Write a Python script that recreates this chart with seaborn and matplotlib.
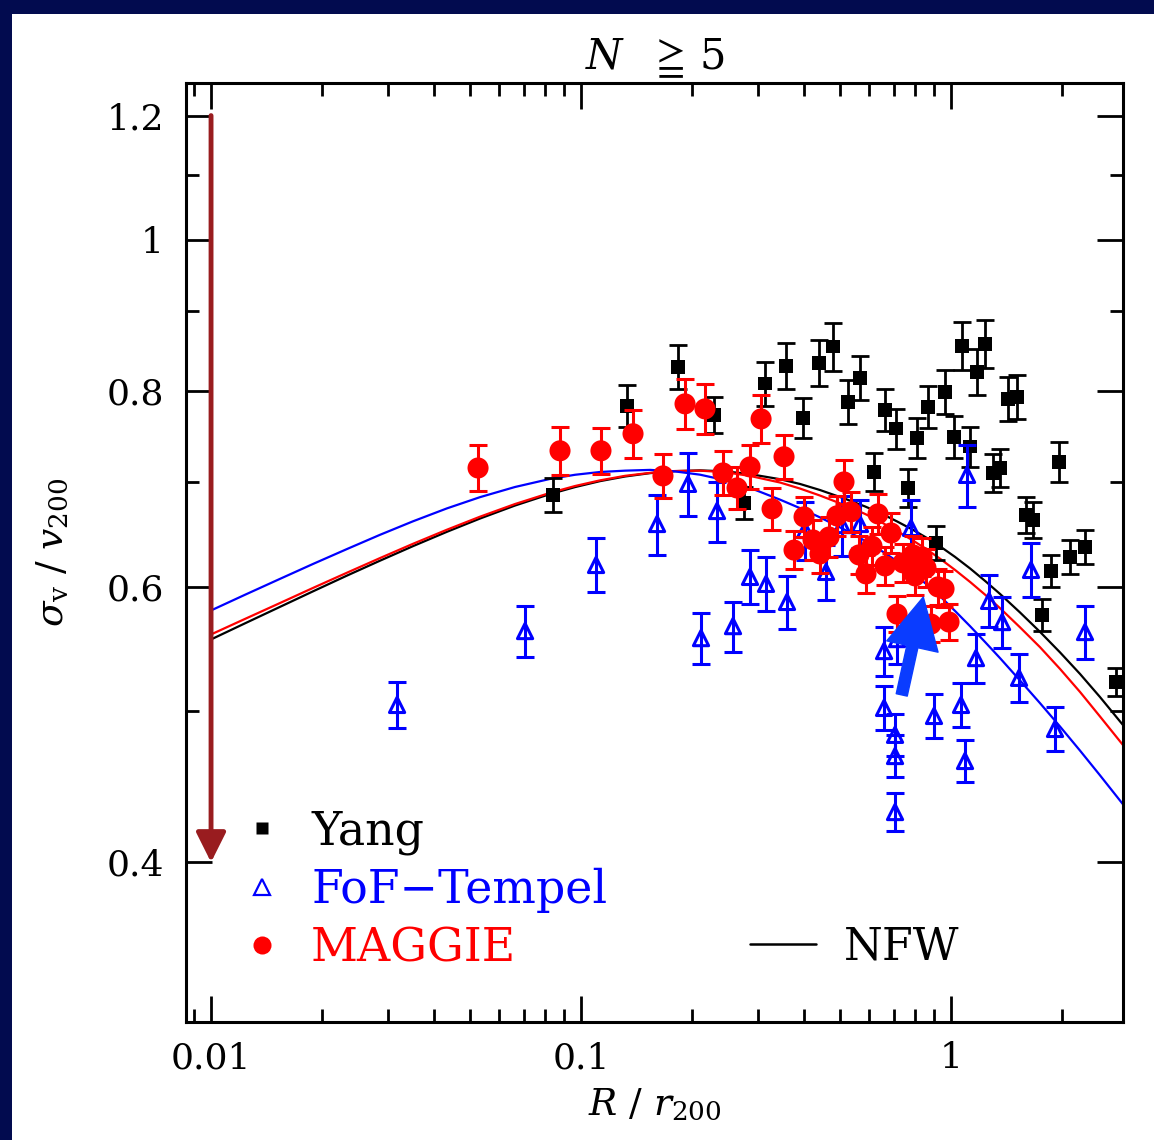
import matplotlib
matplotlib.use("Agg")
import matplotlib.pyplot as plt
import seaborn as sns
import pandas as pd
from matplotlib.lines import Line2D
from matplotlib.patches import Rectangle
from matplotlib.ticker import FixedLocator, FixedFormatter, LogLocator, NullFormatter

# ---------------- data ----------------
yang_x = [0.0840, 0.1331, 0.1829, 0.2288, 0.2758, 0.3143, 0.3581, 0.3981, 0.4396, 0.4799,
          0.5267, 0.5675, 0.6193, 0.6633, 0.7101, 0.7652, 0.8094, 0.8667, 0.9109, 0.9634,
          1.019, 1.071, 1.126, 1.176, 1.236, 1.299, 1.357, 1.426, 1.508, 1.595,
          1.665, 1.762, 1.863, 1.958, 2.097, 2.302, 2.792]
yang_y = [0.6867, 0.7828, 0.8291, 0.7725, 0.6787, 0.8089, 0.8303, 0.7691, 0.8340, 0.8541,
          0.7875, 0.8159, 0.7103, 0.7783, 0.7570, 0.6938, 0.7470, 0.7817, 0.6398, 0.7992,
          0.7481, 0.8553, 0.7372, 0.8231, 0.8578, 0.7093, 0.7145, 0.7910, 0.7934, 0.6668,
          0.6619, 0.5754, 0.6141, 0.7208, 0.6268, 0.6360, 0.5217]
yang_err = [0.0172, 0.0242, 0.0268, 0.0205, 0.0160, 0.0262, 0.0281, 0.0226, 0.0282, 0.0302,
            0.0255, 0.0264, 0.0199, 0.0241, 0.0223, 0.0194, 0.0220, 0.0242, 0.0160, 0.0259,
            0.0231, 0.0302, 0.0217, 0.0279, 0.0303, 0.0198, 0.0200, 0.0256, 0.0257, 0.0177,
            0.0175, 0.0136, 0.0145, 0.0212, 0.0157, 0.0159, 0.0108]

fof_x = [0.03183, 0.07059, 0.1098, 0.1605, 0.1946, 0.2110, 0.2331, 0.2575, 0.2862, 0.3162,
         0.3603, 0.4031, 0.4595, 0.5075, 0.5675, 0.6592, 0.7145, 0.6592, 0.7058, 0.7058,
         0.7058, 0.7797, 0.8995, 1.064, 1.091, 1.105, 1.168, 1.267, 1.374, 1.527,
         1.645, 1.910, 2.302]
fof_y = [0.5042, 0.5621, 0.6195, 0.6580, 0.6980, 0.5563, 0.6707, 0.5662, 0.6087, 0.6025,
         0.5867, 0.6522, 0.6132, 0.6570, 0.6580, 0.5458, 0.5555, 0.5020, 0.4825, 0.4677,
         0.4307, 0.6542, 0.4961, 0.5042, 0.4643, 0.7073, 0.5402, 0.5876, 0.5696, 0.5247,
         0.6150, 0.4867, 0.5613]
fof_err = [0.0171, 0.0207, 0.0246, 0.0291, 0.0319, 0.0205, 0.0296, 0.0208, 0.0242, 0.0239,
           0.0225, 0.0278, 0.0244, 0.0290, 0.0232, 0.0193, 0.0204, 0.0163, 0.0149, 0.0145,
           0.0120, 0.0279, 0.0161, 0.0163, 0.0144, 0.0323, 0.0191, 0.0225, 0.0210, 0.0185,
           0.0244, 0.0158, 0.0215]

maggie_x = [0.05268, 0.08774, 0.1132, 0.1382, 0.1665, 0.1910, 0.2163, 0.2419, 0.2640, 0.2862,
            0.3066, 0.3283, 0.3537, 0.3764, 0.4006, 0.4236, 0.4424, 0.4681, 0.4918, 0.5137,
            0.5368, 0.5640, 0.5891, 0.6115, 0.6348, 0.6633, 0.6886, 0.7145, 0.7418, 0.7895,
            0.7994, 0.8349, 0.8558, 0.8830, 0.9223, 0.9574, 0.9876]
maggie_y = [0.7145, 0.7328, 0.7328, 0.7514, 0.7062, 0.7852, 0.7794, 0.7093, 0.6938, 0.7156,
            0.7680, 0.6728, 0.7264, 0.6332, 0.6649, 0.6427, 0.6296, 0.6455, 0.6659, 0.7000,
            0.6699, 0.6287, 0.6114, 0.6369, 0.6678, 0.6186, 0.6493, 0.5763, 0.6214, 0.6287,
            0.6096, 0.6268, 0.6168, 0.5679, 0.5998, 0.5981, 0.5696]
maggie_err = [0.0242, 0.0259, 0.0248, 0.0265, 0.0229, 0.0289, 0.0287, 0.0230, 0.0214, 0.0232,
              0.0271, 0.0208, 0.0235, 0.0177, 0.0196, 0.0189, 0.0176, 0.0190, 0.0196, 0.0227,
              0.0197, 0.0176, 0.0171, 0.0178, 0.0197, 0.0173, 0.0191, 0.0153, 0.0174, 0.0176,
              0.0171, 0.0175, 0.0173, 0.0150, 0.0159, 0.0158, 0.0151]

# model curves
curve_x = [0.01, 0.01235, 0.01537, 0.01886, 0.02331, 0.02862, 0.03515, 0.04343, 0.05334, 0.06631,
           0.08245, 0.09634, 0.1125, 0.1315, 0.1537, 0.1795, 0.2097, 0.2449, 0.2862, 0.3449,
           0.3907, 0.4425, 0.5236, 0.5855, 0.6427, 0.7145, 0.7895, 0.8558, 0.9339, 1.025,
           1.126, 1.236, 1.357, 1.536, 1.740, 1.971, 2.232, 2.527, 2.916]
nfw_yang = [0.5552, 0.5685, 0.5825, 0.5959, 0.6099, 0.6234, 0.6369, 0.6505, 0.6633, 0.6761,
            0.6876, 0.6947, 0.7008, 0.7056, 0.7091, 0.7112, 0.7120, 0.7110, 0.7081, 0.7028,
            0.6979, 0.6917, 0.6821, 0.6752, 0.6688, 0.6605, 0.6523, 0.6451, 0.6367, 0.6269,
            0.6163, 0.6051, 0.5936, 0.5777, 0.5614, 0.5447, 0.5277, 0.5101, 0.4895]
nfw_maggie = [0.5593, 0.5722, 0.5858, 0.5989, 0.6125, 0.6258, 0.6391, 0.6525, 0.6651, 0.6776,
              0.6888, 0.6958, 0.7016, 0.7063, 0.7094, 0.7113, 0.7117, 0.7101, 0.7062, 0.6994,
              0.6932, 0.6861, 0.6756, 0.6678, 0.6604, 0.6512, 0.6421, 0.6343, 0.6252, 0.6150,
              0.6042, 0.5930, 0.5813, 0.5652, 0.5489, 0.5316, 0.5139, 0.4957, 0.4753]
nfw_fof = [0.5794, 0.5929, 0.6070, 0.6204, 0.6342, 0.6476, 0.6606, 0.6733, 0.6845, 0.6948,
           0.7031, 0.7074, 0.7103, 0.7117, 0.7125, 0.7109, 0.7075, 0.7018, 0.6939, 0.6820,
           0.6735, 0.6644, 0.6513, 0.6419, 0.6334, 0.6229, 0.6120, 0.6025, 0.5917, 0.5790,
           0.5661, 0.5531, 0.5401, 0.5227, 0.5055, 0.4884, 0.4714, 0.4546, 0.4356]

legend_labels = ["Yang", "FoF\u2212Tempel", "MAGGIE"]
x_tick_values = [0.01, 0.1, 1]
x_tick_labels = ["0.01", "0.1", "1"]
y_tick_values = [0.4, 0.6, 0.8, 1.0, 1.2]
y_tick_labels = ["0.4", "0.6", "0.8", "1", "1.2"]
y_minor_values = [0.5, 0.7, 0.9, 1.1]

# annotation arrows
limit_arrow = ((0.01, 1.2), (0.01, 0.4))
blue_arrow = ((0.7358, 0.5117), (0.8415, 0.5909))

# ---------------- style ----------------
sns.set_theme(style="ticks")
plt.rcParams["font.family"] = ["DejaVu Serif", "DejaVu Sans"]
plt.rcParams["mathtext.fontset"] = "dejavuserif"

W, H = 1154, 1140
fig = plt.figure(figsize=(W / 100, H / 100), dpi=100, facecolor="#020b4f")
fig.add_artist(Rectangle((12 / W, 0), 1, 1 - 14 / H, transform=fig.transFigure,
                         facecolor="white", edgecolor="none", zorder=-5))

ax = fig.add_axes([186 / W, 1 - 1022 / H, (1123 - 186) / W, (1022 - 83) / H])
ax.set_facecolor("white")
ax.set_xscale("log")
ax.set_yscale("log")
ax.set_xlim(0.008557, 2.916)
ax.set_ylim(10 ** -0.5, 10 ** 0.1)

# curves
curves = pd.DataFrame({
    "x": curve_x * 3,
    "y": nfw_yang + nfw_maggie + nfw_fof,
    "set": ["yang"] * len(curve_x) + ["maggie"] * len(curve_x) + ["fof"] * len(curve_x),
})
for name, col in [("yang", "black"), ("maggie", "red"), ("fof", "blue")]:
    sub = curves[curves["set"] == name]
    sns.lineplot(data=sub, x="x", y="y", color=col, lw=1.6, sort=False,
                 estimator=None, ax=ax, zorder=2, legend=False)

# data points
ax.errorbar(yang_x, yang_y, yerr=yang_err, fmt="none", ecolor="black",
            elinewidth=2.0, capsize=6.5, capthick=2.0, zorder=3)
sns.scatterplot(x=yang_x, y=yang_y, marker="s", s=95, color="black",
                edgecolor="none", ax=ax, zorder=3.5, legend=False)

ax.errorbar(fof_x, fof_y, yerr=fof_err, fmt="none", ecolor="blue",
            elinewidth=2.2, capsize=6.5, capthick=2.2, zorder=4)
sns.scatterplot(x=fof_x, y=fof_y, marker="^", s=120, facecolor="none",
                edgecolor="blue", linewidth=2.2, ax=ax, zorder=4.5, legend=False)

ax.errorbar(maggie_x, maggie_y, yerr=maggie_err, fmt="none", ecolor="red",
            elinewidth=2.2, capsize=6.5, capthick=2.2, zorder=5)
sns.scatterplot(x=maggie_x, y=maggie_y, marker="o", s=230, color="red",
                edgecolor="none", ax=ax, zorder=5.5, legend=False)

# arrows
ax.annotate("", xy=limit_arrow[1], xytext=limit_arrow[0],
            arrowprops=dict(arrowstyle="-|>,head_length=0.7,head_width=0.35",
                            color="#991c1f", lw=3.5, mutation_scale=26,
                            shrinkA=0, shrinkB=0), zorder=6)
ax.annotate("", xy=blue_arrow[1], xytext=blue_arrow[0],
            arrowprops=dict(arrowstyle="simple,head_length=1.35,head_width=1.4,tail_width=0.3",
                            color="#0a3cff", mutation_scale=27, shrinkA=0, shrinkB=0), zorder=7)

# ticks
ax.xaxis.set_major_locator(FixedLocator(x_tick_values))
ax.xaxis.set_major_formatter(FixedFormatter(x_tick_labels))
ax.xaxis.set_minor_locator(LogLocator(base=10, subs=range(2, 10), numticks=20))
ax.xaxis.set_minor_formatter(NullFormatter())
ax.yaxis.set_major_locator(FixedLocator(y_tick_values))
ax.yaxis.set_major_formatter(FixedFormatter(y_tick_labels))
ax.yaxis.set_minor_locator(FixedLocator(y_minor_values))
ax.yaxis.set_minor_formatter(NullFormatter())
ax.tick_params(which="both", direction="in", top=True, right=True, color="black",
               width=2.0, labelsize=26, labelcolor="black")
ax.tick_params(which="major", length=19)
ax.tick_params(which="minor", length=9.5)
ax.tick_params(axis="x", which="major", pad=14)
ax.tick_params(axis="y", which="major", pad=16)
for sp in ax.spines.values():
    sp.set_linewidth(2.2)
    sp.set_color("black")
    sp.set_visible(True)

ax.set_title(r"$N\ \ \geqq\,5$", fontsize=30, pad=10, color="black")
ax.set_xlabel(r"$R\ /\ r_{200}$", fontsize=27, color="black")
ax.set_ylabel(r"$\sigma_{\rm v}\ /\ v_{200}$", fontsize=27, color="black")
ax.xaxis.set_label_coords(0.5005, -0.070)
ax.yaxis.set_label_coords(-0.122, 0.5)

# legends
h_yang = Line2D([], [], ls="none", marker="s", ms=9, color="black", mec="none")
h_fof = Line2D([], [], ls="none", marker="^", ms=11, mfc="none", mec="blue", mew=1.6)
h_mag = Line2D([], [], ls="none", marker="o", ms=13, color="red", mec="none")
leg1 = ax.legend([h_yang, h_fof, h_mag], legend_labels, loc="center left",
                 bbox_to_anchor=(0.0576, 0.1405), frameon=False, fontsize=33,
                 handlelength=0.95, handletextpad=0.6, labelspacing=0.28,
                 borderpad=0, borderaxespad=0)
for t, c in zip(leg1.get_texts(), ["black", "blue", "red"]):
    t.set_color(c)
ax.add_artist(leg1)
h_nfw = Line2D([], [], color="black", lw=1.8)
leg2 = ax.legend([h_nfw], ["NFW"], loc="center left", bbox_to_anchor=(0.602, 0.080),
                 frameon=False, fontsize=32, handlelength=1.48, handletextpad=0.62,
                 borderpad=0, borderaxespad=0)
for t in leg2.get_texts():
    t.set_color("black")

fig.savefig("out.png", dpi=100, facecolor=fig.get_facecolor())
